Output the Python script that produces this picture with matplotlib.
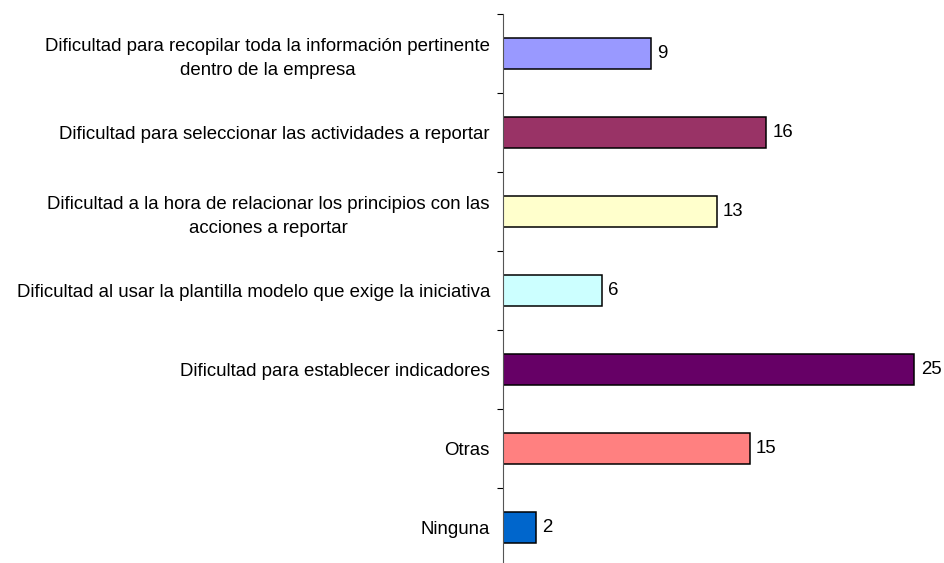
import numpy as np
import matplotlib.pyplot as plt

plt.rcParams['font.family'] = ['Liberation Sans', 'DejaVu Sans']

categorias = [
	"Dificultad para recopilar toda la información pertinente\ndentro de la empresa",
	"Dificultad para seleccionar las actividades a reportar",
	"Dificultad a la hora de relacionar los principios con las\nacciones a reportar",
	"Dificultad al usar la plantilla modelo que exige la iniciativa",
	"Dificultad para establecer indicadores",
	"Otras",
	"Ninguna",
]
valores = [9, 16, 13, 6, 25, 15, 2]
colores = ["#9999FF", "#993366", "#FFFFCC", "#CCFFFF", "#660066", "#FF8080", "#0066CC"]

W, H = 944, 563
fs = 13.4
fig = plt.figure(figsize=(W / 100, H / 100), dpi=100)
x0, x1 = 502.7, 935.0
top, paso = 13.7, 79.0
n = len(valores)
ax = fig.add_axes([x0 / W, (H - top - n * paso) / H, (x1 - x0) / W, n * paso / H])

pos = np.arange(n)
ax.barh(pos, valores, height=0.39, color=colores, edgecolor="black", linewidth=1.1)
ax.set_ylim(n - 0.5, -0.5)
ax.set_xlim(0, (x1 - x0) / 16.47)

for y, v in zip(pos, valores):
	ax.text(v + 0.38, y, str(v), va="center", ha="left", fontsize=fs)

ax.set_yticks(pos)
ax.set_yticklabels(categorias, fontsize=fs, ha="right", multialignment="center", linespacing=1.55)
ax.tick_params(axis="y", which="major", length=0, pad=12.7 * 72 / 100)

# marcas entre categorias
ax.set_yticks(np.arange(n + 1) - 0.5, minor=True)
ax.tick_params(axis="y", which="minor", length=4, width=0.8, direction="out")
ax.set_xticks([])
for s in ["top", "right", "bottom"]:
	ax.spines[s].set_visible(False)
ax.spines["left"].set_linewidth(0.8)
ax.spines["left"].set_color("#555555")

fig.savefig("out.png", dpi=100)
